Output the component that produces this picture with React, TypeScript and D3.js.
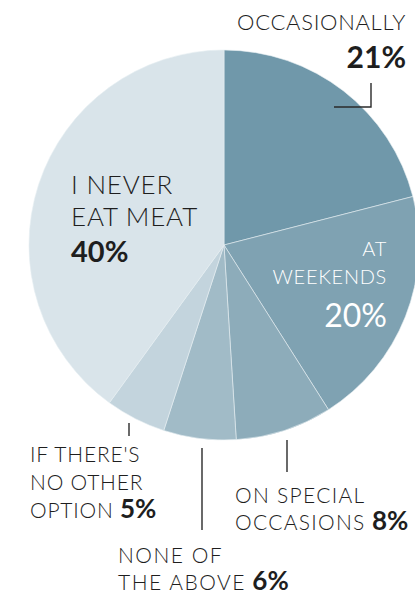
import * as d3 from "d3";
import { FC } from "react";

const categories = [
  "Occasionally",
  "At weekends",
  "On special occasions",
  "None of the above",
  "If there's no other option",
  "I never eat meat",
];
const shares = [21, 20, 8, 6, 5, 40];
const colours = ["#7098aa", "#7fa2b2", "#8dacba", "#a1bbc7", "#c3d4dd", "#d9e4ea"];

const WIDTH = 415;
const HEIGHT = 598;
const CX = 224;
const CY = 245;
const RADIUS = 195;

const LIGHT = "Lato, 'Open Sans', sans-serif";
const INK = "#1e1e1e";

const App: FC = () => {
  const pie = d3
    .pie<number>()
    .sort(null)
    .value((d) => d);
  const arcs = pie(shares);
  const arc = d3.arc<d3.PieArcDatum<number>>().innerRadius(0).outerRadius(RADIUS);

  const label = (
    lines: string[],
    pct: string,
    x: number,
    y: number,
    opts: {
      anchor?: "start" | "end";
      size?: number;
      pctSize?: number;
      lead?: number;
      pctInline?: boolean;
      colour?: string;
      pctWeight?: number;
      pctLead?: number;
      spacing?: number;
    }
  ) => {
    const {
      anchor = "start",
      size = 21,
      pctSize = 26,
      lead = 28,
      pctInline = true,
      colour = INK,
      pctWeight = 700,
      pctLead = lead,
      spacing = 1,
    } = opts;
    return (
      <text
        x={x}
        y={y}
        textAnchor={anchor}
        fontFamily={LIGHT}
        fill={colour}
        fontWeight={300}
        fontSize={size}
      >
        {lines.map((l, i) => (
          <tspan key={i} x={x} dy={i === 0 ? 0 : lead} letterSpacing={spacing}>
            {l}
            {pctInline && i === lines.length - 1 ? (
              <tspan fontWeight={pctWeight} fontSize={pctSize} letterSpacing={0}>
                {" " + pct}
              </tspan>
            ) : null}
          </tspan>
        ))}
        {!pctInline ? (
          <tspan x={x} dy={pctLead} fontWeight={pctWeight} fontSize={pctSize}>
            {pct}
          </tspan>
        ) : null}
      </text>
    );
  };

  return (
    <svg
      width={WIDTH}
      height={HEIGHT}
      style={{ position: "absolute", left: 0, top: 0, background: "#fff" }}
    >
      <g transform={`translate(${CX},${CY})`}>
        {arcs.map((a, i) => (
          <path
            key={categories[i]}
            d={arc(a) || ""}
            fill={colours[i]}
            stroke="#e6eef2"
            strokeWidth={0.6}
          />
        ))}
      </g>

      {/* leader lines */}
      <g stroke="#2a2a2a" strokeWidth={1.4} fill="none">
        <path d="M371,83 V107 H334" />
        <path d="M129,423 V436" />
        <path d="M202,448 V530" />
        <path d="M287,440 V472" />
      </g>

      {label(["OCCASIONALLY"], `${shares[0]}%`, 406, 30, {
        anchor: "end",
        size: 22,
        pctSize: 30,
        pctInline: false,
        pctLead: 38,
        spacing: 0.7,
      })}
      {label(["I NEVER", "EAT MEAT"], `${shares[5]}%`, 71, 194, {
        size: 26,
        pctSize: 29,
        lead: 32,
        pctInline: false,
        pctLead: 36,
        spacing: 0.8,
      })}
      {label(["AT", "WEEKENDS"], `${shares[1]}%`, 387, 256, {
        anchor: "end",
        size: 20,
        pctSize: 32,
        lead: 28,
        pctInline: false,
        pctLead: 43,
        colour: "#ffffff",
        pctWeight: 400,
        spacing: 0.7,
      })}
      {label(["IF THERE'S", "NO OTHER", "OPTION"], `${shares[4]}%`, 30, 462, {
        lead: 28,
        spacing: 0.8,
      })}
      {label(["ON SPECIAL", "OCCASIONS"], `${shares[2]}%`, 235, 503, {
        lead: 27,
        spacing: 1.3,
      })}
      {label(["NONE OF", "THE ABOVE"], `${shares[3]}%`, 118, 563, {
        lead: 27,
        spacing: 1.5,
      })}
    </svg>
  );
};

export default App;
